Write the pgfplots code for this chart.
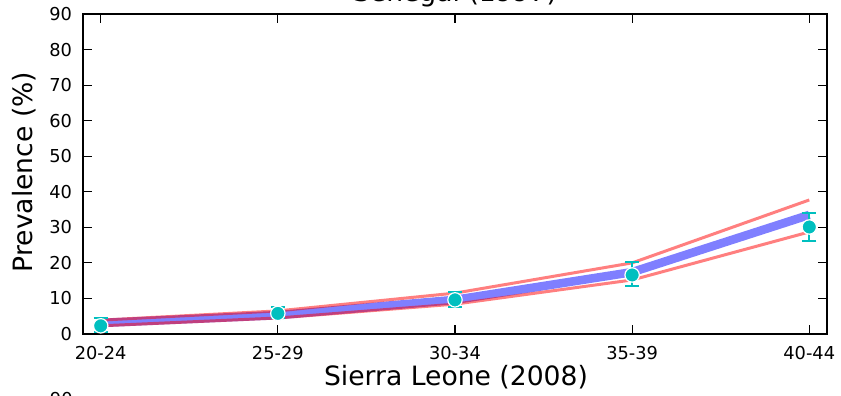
\documentclass[border=0pt]{standalone}
\usepackage{fontspec}
\setmainfont{DejaVu Sans}
\usepackage{pgfplots}
\pgfplotsset{compat=1.18}
\definecolor{mplc}{HTML}{00BFBF}
\begin{document}
\begin{tikzpicture}
\begin{axis}[
  at={(0pt,0pt)}, anchor=south west,
  width=372pt, height=160pt, scale only axis,
  xmin=-0.1, xmax=4.1, ymin=0, ymax=90,
  xtick={0,1,2,3,4},
  xticklabels={20-24,25-29,30-34,35-39,40-44},
  ytick={0,10,...,90},
  tick align=inside, major tick length=4.5pt,
  tick style={black, line width=0.6pt},
  axis line style={line width=1.3pt},
  ticklabel style={font=\fontsize{8.9}{10}\selectfont},
  /pgf/number format/assume math mode=true,
  xticklabel style={yshift=-2.6pt},
  yticklabel style={xshift=-2pt},
  clip=false,
]
% model mean
\addplot[blue, opacity=0.5, line width=4.3pt, mark=none]
  coordinates {(0,3.1)(1,5.3)(2,9.6)(3,17.4)(4,33.5)};
% bounds
\addplot[red, opacity=0.5, line width=1.5pt, mark=none]
  coordinates {(0,3.9)(1,6.5)(2,11.5)(3,20.0)(4,37.7)};
\addplot[red, opacity=0.5, line width=1.5pt, mark=none]
  coordinates {(0,2.3)(1,4.5)(2,8.4)(3,15.2)(4,28.7)};
% error bars
\addplot[draw=none, mark=none, forget plot,
  error bars/.cd, y dir=both, y explicit,
  error bar style={draw=mplc, line width=1pt},
  error mark options={rotate=90, mark size=3.5pt, draw=mplc, line width=1pt}]
  coordinates {
    (0,2.3)  += (0,2.2) -= (0,1.8)
    (1,5.8)  += (0,1.8) -= (0,1.4)
    (2,9.6)  += (0,2.2) -= (0,2.0)
    (3,16.6) += (0,3.6) -= (0,3.1)
    (4,30.1) += (0,3.9) -= (0,3.9)
  };
% observed
\addplot[only marks, mark=*, mark size=3.6pt,
  mark options={fill=mplc, draw=white, line width=0.6pt}]
  coordinates {(0,2.3)(1,5.8)(2,9.6)(3,16.6)(4,30.1)};
\end{axis}
\node[anchor=base, font=\fontsize{13.3}{16}\selectfont] at (186pt,166pt) {Senegal (1997)};
\node[anchor=base, font=\fontsize{13.3}{16}\selectfont] at (186.5pt,-26pt) {Sierra Leone (2008)};
\node[rotate=90, font=\fontsize{13.3}{16}\selectfont] at (-29.3pt,81pt) {Prevalence (\%)};
\node[anchor=east, inner sep=0pt, font=\fontsize{8.9}{10}\selectfont] at (-5pt,-32.3pt) {90};
\pgfresetboundingbox
\useasboundingbox (-41.5pt,-31pt) rectangle (379pt,167pt);
\end{tikzpicture}
\end{document}
